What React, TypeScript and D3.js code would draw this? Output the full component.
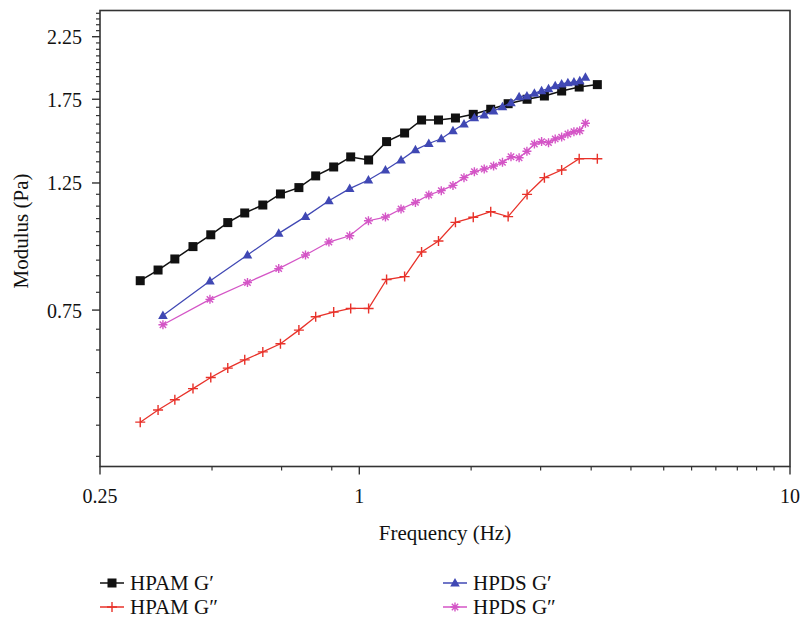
import React from "react";
import * as d3 from "d3";

const freqHPAM = [0.31, 0.341, 0.373, 0.411, 0.452, 0.495, 0.542, 0.597, 0.656, 0.724, 0.792, 0.872, 0.955, 1.051, 1.157, 1.274, 1.395, 1.527, 1.672, 1.839, 2.019, 2.216, 2.452, 2.69, 2.95, 3.24, 3.57];
const hpamGp = [0.844, 0.881, 0.921, 0.968, 1.015, 1.066, 1.108, 1.144, 1.196, 1.227, 1.286, 1.333, 1.388, 1.371, 1.476, 1.528, 1.61, 1.61, 1.623, 1.647, 1.681, 1.719, 1.75, 1.773, 1.809, 1.838, 1.856];
const hpamGpp = [0.478, 0.502, 0.523, 0.547, 0.572, 0.594, 0.614, 0.634, 0.655, 0.692, 0.73, 0.744, 0.755, 0.755, 0.848, 0.858, 0.947, 0.99, 1.067, 1.089, 1.114, 1.092, 1.194, 1.277, 1.317, 1.378, 1.378];
const freqHPDS = [0.35, 0.45, 0.55, 0.65, 0.75, 0.85, 0.95, 1.05, 1.15, 1.25, 1.35, 1.45, 1.55, 1.65, 1.75, 1.85, 1.95, 2.05, 2.15, 2.25, 2.35, 2.45, 2.55, 2.65, 2.75, 2.85, 2.95, 3.05, 3.15, 3.25, 3.35];
const hpdsGp = [0.734, 0.843, 0.936, 1.021, 1.092, 1.164, 1.222, 1.265, 1.317, 1.371, 1.428, 1.465, 1.493, 1.542, 1.584, 1.625, 1.642, 1.669, 1.698, 1.726, 1.768, 1.773, 1.792, 1.811, 1.826, 1.848, 1.861, 1.87, 1.875, 1.885, 1.911];
const hpdsGpp = [0.707, 0.783, 0.838, 0.886, 0.936, 0.986, 1.011, 1.074, 1.09, 1.126, 1.156, 1.191, 1.212, 1.238, 1.277, 1.308, 1.322, 1.338, 1.358, 1.389, 1.383, 1.42, 1.462, 1.476, 1.47, 1.492, 1.503, 1.522, 1.536, 1.542, 1.589];

const yMajorTicks = [0.75, 1.25, 1.75, 2.25];
const yTickLabels = ["0.75", "1.25", "1.75", "2.25"];
const xMajorTicks = [0.25, 1, 10];
const xTickLabels = ["0.25", "1", "10"];
const xMinorLow = [0.455, 0.66, 0.863];

const seriesNames = ["HPAM G\u2032", "HPAM G\u2033", "HPDS G\u2032", "HPDS G\u2033"];
const seriesColors = ["#111111", "#e8322a", "#4048b4", "#d455c6"];
const seriesMarkers = ["square", "plus", "triangle", "asterisk"];

const FONT = "'Liberation Serif', 'Times New Roman', serif";

function Marker({ type, x, y, color }: { type: string; x: number; y: number; color: string }) {
  if (type === "square") {
    return <rect x={x - 4.5} y={y - 4.5} width={9} height={9} fill={color} />;
  }
  if (type === "triangle") {
    return <path d={`M${x},${y - 5} L${x + 4.8},${y + 3.5} L${x - 4.8},${y + 3.5} Z`} fill={color} />;
  }
  if (type === "plus") {
    return (
      <path d={`M${x - 5},${y} L${x + 5},${y} M${x},${y - 5} L${x},${y + 5}`} stroke={color} strokeWidth={1.4} />
    );
  }
  const r = 4.5;
  const parts: string[] = [];
  for (let i = 0; i < 4; i++) {
    const a = (Math.PI / 4) * i;
    parts.push(`M${x - r * Math.cos(a)},${y - r * Math.sin(a)} L${x + r * Math.cos(a)},${y + r * Math.sin(a)}`);
  }
  return <path d={parts.join(" ")} stroke={color} strokeWidth={1.4} />;
}

export default function App() {
  const x = d3.scaleLog().domain([0.25, 10]).range([100, 790]);
  const y = d3.scaleLog().domain([0.4, 2.5]).range([466.5, 10.5]);

  const series = [
    { xs: freqHPAM, ys: hpamGp },
    { xs: freqHPAM, ys: hpamGpp },
    { xs: freqHPDS, ys: hpdsGp },
    { xs: freqHPDS, ys: hpdsGpp },
  ];

  const line = d3
    .line<[number, number]>()
    .x((d) => x(d[0]))
    .y((d) => y(d[1]));

  const yMinor: number[] = [];
  const step = 0.5 / 9;
  yMajorTicks.forEach((m) => {
    for (let k = -8; k <= 8; k++) {
      if (k === 0) continue;
      const v = m + k * step;
      if (v > 0.4 + 1e-6 && v < 2.5 - 1e-6 && !yMinor.some((u) => Math.abs(u - v) < 1e-6) && !yMajorTicks.some((u) => Math.abs(u - v) < 1e-6)) yMinor.push(v);
    }
  });
  const xMinor = [...xMinorLow];
  for (let k = 1; k <= 10; k++) xMinor.push(1 + (k * 9) / 11);

  const x0 = 100, x1 = 790, yTop = 10.5, yBot = 466.5;

  const legendRows = [583, 607];
  const legendCols = [100, 443];

  return (
    <svg width={800} height={622} style={{ position: "absolute", left: 0, top: 0, background: "#fff" }} fontFamily={FONT}>
      <rect x={0} y={0} width={800} height={622} fill="#fff" />
      <rect x={x0} y={yTop} width={x1 - x0} height={yBot - yTop} fill="none" stroke="#333" strokeWidth={1.6} />
      {yMinor.map((v, i) => (
        <line key={"ym" + i} x1={x0} x2={x0 - 4} y1={y(v)} y2={y(v)} stroke="#333" strokeWidth={1.2} />
      ))}
      {yMajorTicks.map((v, i) => (
        <g key={"yM" + i}>
          <line x1={x0} x2={x0 - 8} y1={y(v)} y2={y(v)} stroke="#333" strokeWidth={1.4} />
          <text x={82} y={y(v) + 7.5} textAnchor="end" fontSize={20} fill="#111">
            {yTickLabels[i]}
          </text>
        </g>
      ))}
      {xMinor.map((v, i) => (
        <line key={"xm" + i} x1={x(v)} x2={x(v)} y1={yBot} y2={yBot + 4} stroke="#333" strokeWidth={1.2} />
      ))}
      {xMajorTicks.map((v, i) => (
        <g key={"xM" + i}>
          <line x1={x(v)} x2={x(v)} y1={yBot} y2={yBot + 8} stroke="#333" strokeWidth={1.4} />
          <text x={x(v)} y={503} textAnchor="middle" fontSize={20} fill="#111">
            {xTickLabels[i]}
          </text>
        </g>
      ))}
      <text x={(x0 + x1) / 2} y={540} textAnchor="middle" fontSize={21} fill="#111">
        Frequency (Hz)
      </text>
      <text transform={`translate(28,231) rotate(-90)`} textAnchor="middle" fontSize={21} fill="#111">
        Modulus (Pa)
      </text>
      {series.map((s, si) => {
        const pts: [number, number][] = s.xs.map((f, i) => [f, s.ys[i]]);
        return (
          <g key={"s" + si}>
            <path d={line(pts) || ""} fill="none" stroke={seriesColors[si]} strokeWidth={si === 0 ? 1.5 : 1.3} />
            {pts.map((p, i) => (
              <Marker key={i} type={seriesMarkers[si]} x={x(p[0])} y={y(p[1])} color={seriesColors[si]} />
            ))}
          </g>
        );
      })}
      {seriesNames.map((name, i) => {
        const col = legendCols[i < 2 ? 0 : 1];
        const row = legendRows[i % 2];
        return (
          <g key={"lg" + i}>
            <line x1={col} x2={col + 24} y1={row} y2={row} stroke={seriesColors[i]} strokeWidth={1.5} />
            <Marker type={seriesMarkers[i]} x={col + 12} y={row} color={seriesColors[i]} />
            <text x={col + 30} y={row + 6.5} fontSize={21} fill="#111">
              {name}
            </text>
          </g>
        );
      })}
    </svg>
  );
}
